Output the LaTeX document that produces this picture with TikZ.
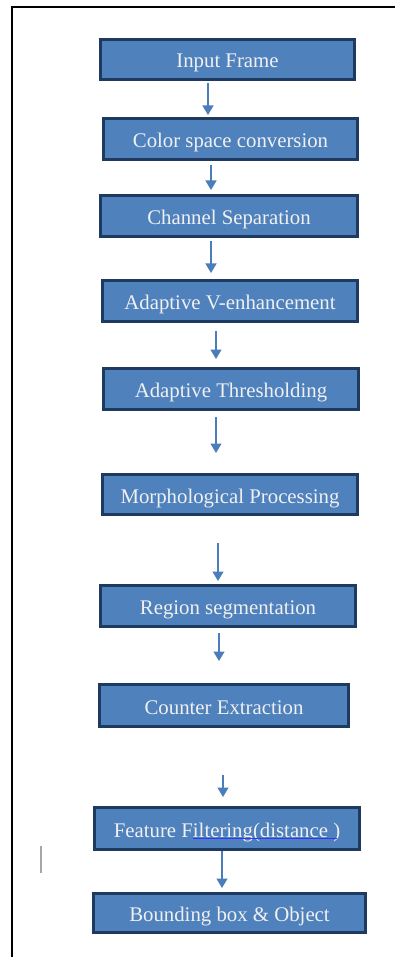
\documentclass[tikz,border=0pt]{standalone}
\usepackage{fontspec}
\setmainfont{Liberation Serif}
\usetikzlibrary{arrows.meta}
\definecolor{boxblue}{HTML}{4F81BD}
\definecolor{boxedge}{HTML}{1F3A60}
\definecolor{flowblue}{HTML}{4A7EBB}

\begin{document}
\begin{tikzpicture}[thick, x=1pt, y=-1pt,
    stage/.style={draw=boxedge, line width=3pt, fill=boxblue, text=white!94!black,
        font=\fontsize{20.8}{24}\selectfont, inner sep=0pt, text height=17pt, text depth=0pt, anchor = center},
    flow/.style={draw=flowblue, line width=1.3pt, -{Triangle[width=11pt,length=9.5pt]}}]
    \useasboundingbox (0,0) rectangle (395,957);
    \draw[line width=2pt] (395,7) -- (12,7) -- (12,957);
    \draw[gray!70, line width=1.5pt] (41,846) -- (41,873);
    \node[stage, minimum width=254pt, minimum height=40pt] (b1) at (227.5,59.5){Input Frame};
    \node[stage, minimum width=254pt, minimum height=41pt] (b2) at (230.5,139){Color space conversion};
    \node[stage, minimum width=257pt, minimum height=41pt] (b3) at (229,216){Channel Separation};
    \node[stage, minimum width=255pt, minimum height=41pt] (b4) at (230,301){Adaptive V-enhancement};
    \node[stage, minimum width=255pt, minimum height=41pt] (b5) at (231,389){Adaptive Thresholding};
    \node[stage, minimum width=255pt, minimum height=40pt] (b6) at (230,494.5){Morphological Processing};
    \node[stage, minimum width=255pt, minimum height=41pt] (b7) at (228,606){Region segmentation};
    \node[stage, minimum width=249pt, minimum height=42pt] (b8) at (224,705.5){Counter Extraction};
    \node[stage, minimum width=265pt, minimum height=42pt] (b9) at (227,828.5){Feature Filtering(distance )};
    \node[stage, minimum width=272pt, minimum height=39pt] (b10) at (229.5,913){Bounding box \& Object};
    \draw[blue!80, line width=0.5pt] ([xshift=-34pt, yshift=-9.5pt]b9.center) -- ([xshift=110pt, yshift=-9.5pt]b9.center);
    \draw[flow, shorten <=2pt, shorten >=2pt] ([xshift=-19.5pt]b1.south) -- ([xshift=-19.5pt]b1.south |- b2.north);
    \draw[flow, shorten <=4pt, shorten >=4pt] ([xshift=-19.5pt]b2.south) -- ([xshift=-19.5pt]b2.south |- b3.north);
    \draw[flow, shorten <=3pt, shorten >=6pt] ([xshift=-18pt]b3.south) -- ([xshift=-18pt]b3.south |- b4.north);
    \draw[flow, shorten <=8pt, shorten >=8pt] ([xshift=-14pt]b4.south) -- ([xshift=-14pt]b4.south |- b5.north);
    \draw[flow, shorten <=6pt, shorten >=20pt] ([xshift=-15pt]b5.south) -- ([xshift=-15pt]b5.south |- b6.north);
    \draw[flow, shorten <=27pt, shorten >=3pt] ([xshift=-12pt]b6.south) -- ([xshift=-12pt]b6.south |- b7.north);
    \draw[flow, shorten <=5pt, shorten >=22pt] ([xshift=-9pt]b7.south) -- ([xshift=-9pt]b7.south |- b8.north);
    \draw[flow, shorten <=47pt, shorten >=9pt] ([xshift=-1pt]b8.south) -- ([xshift=-1pt]b8.south |- b9.north);
    \draw[flow, shorten >=4pt] ([xshift=-5pt]b9.south) -- ([xshift=-5pt]b9.south |- b10.north);
\end{tikzpicture}
\end{document}
